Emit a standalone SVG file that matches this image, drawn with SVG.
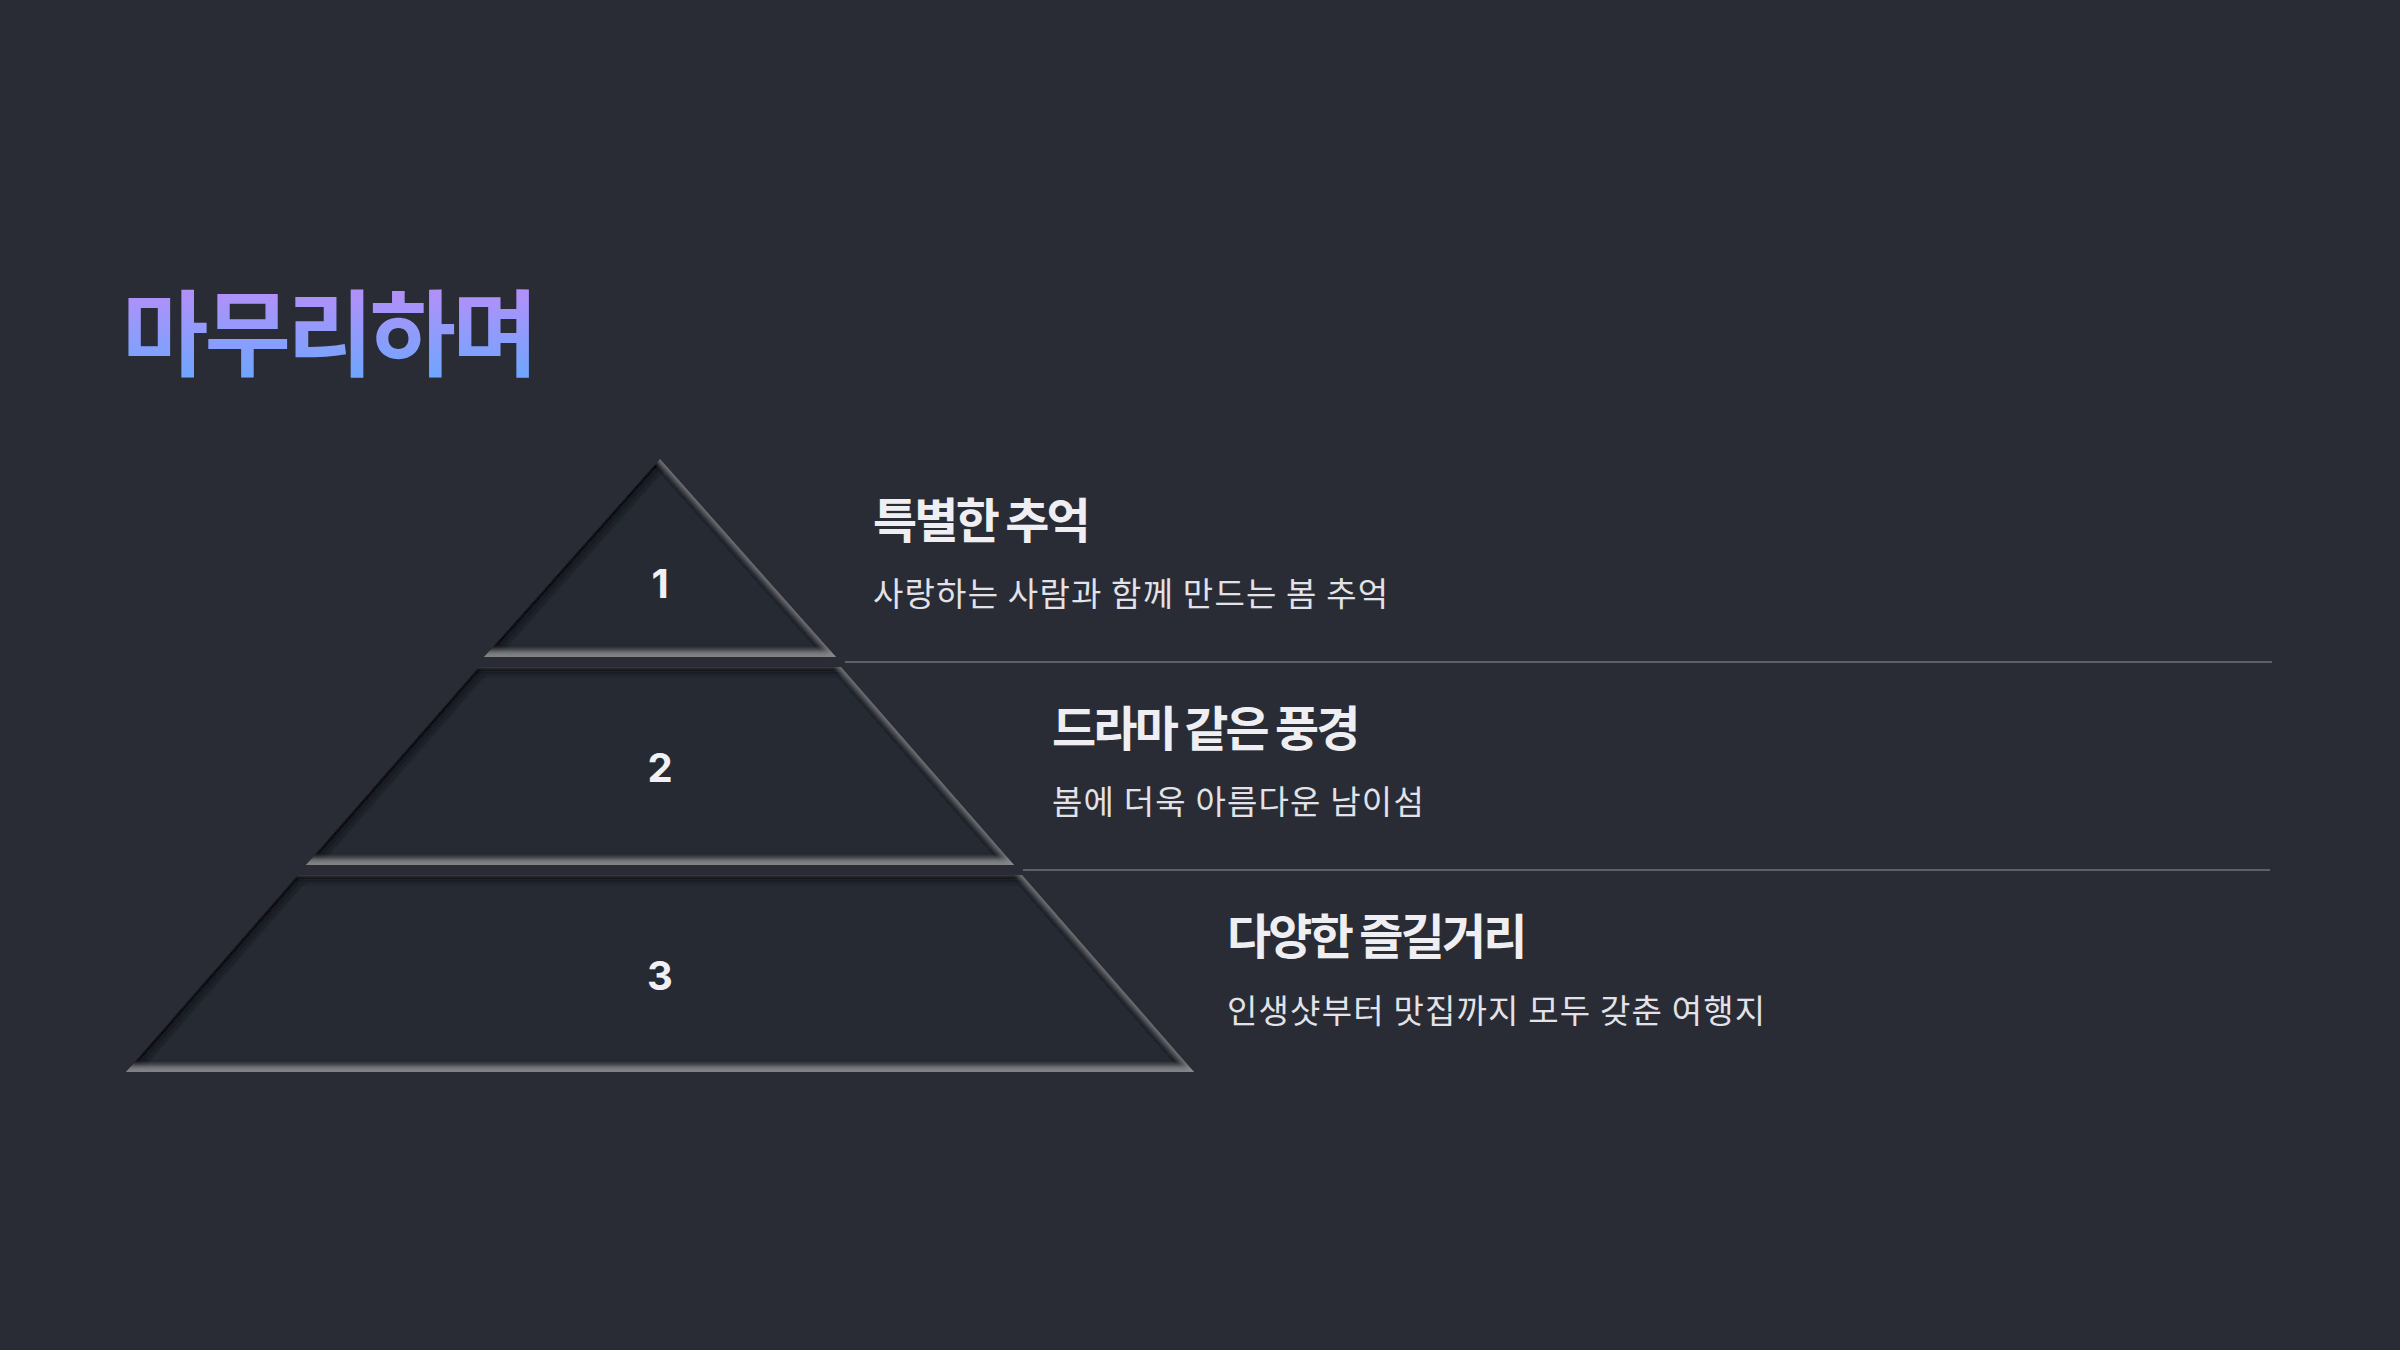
<svg xmlns="http://www.w3.org/2000/svg" width="2400" height="1350" viewBox="0 0 2400 1350">
  <defs>
    <linearGradient id="titleGrad" x1="0" y1="0" x2="0" y2="1">
      <stop offset="0" stop-color="#cc86f7"/>
      <stop offset="0.55" stop-color="#8f9cfc"/>
      <stop offset="1" stop-color="#62a9ff"/>
    </linearGradient>
    <filter id="inset" x="-5%" y="-5%" width="110%" height="110%">
      <feFlood flood-color="#0e1014" flood-opacity="0.6" result="dk"/>
      <feComposite in="dk" in2="SourceAlpha" operator="out" result="dkOut"/>
      <feOffset in="dkOut" dx="5" dy="2" result="o1"/>
      <feGaussianBlur in="o1" stdDeviation="2.5" result="b1"/>
      <feComposite in="b1" in2="SourceAlpha" operator="in" result="s1"/>
      <feOffset in="dkOut" dx="0" dy="5" result="o2"/>
      <feGaussianBlur in="o2" stdDeviation="2.5" result="b2"/>
      <feComposite in="b2" in2="SourceAlpha" operator="in" result="s2"/>
      <feFlood flood-color="#8c8e93" flood-opacity="0.7" result="lt"/>
      <feComposite in="lt" in2="SourceAlpha" operator="out" result="ltOut"/>
      <feOffset in="ltOut" dx="-5" dy="-2" result="o3"/>
      <feGaussianBlur in="o3" stdDeviation="2.5" result="b3"/>
      <feComposite in="b3" in2="SourceAlpha" operator="in" result="s3"/>
      <feOffset in="ltOut" dx="0" dy="-6" result="o4"/>
      <feGaussianBlur in="o4" stdDeviation="2.5" result="b4"/>
      <feComposite in="b4" in2="SourceAlpha" operator="in" result="s4"/>
      <feMerge>
        <feMergeNode in="SourceGraphic"/>
        <feMergeNode in="s1"/>
        <feMergeNode in="s2"/>
        <feMergeNode in="s3"/>
        <feMergeNode in="s4"/>
      </feMerge>
    </filter>
  </defs>
  <style>
    .tier { fill: #252931; filter: url(#inset); }
    .num { font-family: Inter, "Noto Sans", sans-serif; font-weight: 700; font-size: 40px; fill: #f0f0f5; text-anchor: middle; }
    .head { font-family: "Noto Sans CJK KR", sans-serif; font-weight: 700; font-size: 48px; fill: #eeeef3; letter-spacing: -2.8px; }
    .sub { font-family: "Noto Sans CJK KR", sans-serif; font-weight: 400; font-size: 33px; fill: #e2e2e8; letter-spacing: 1.2px; }
    .title { font-family: "Noto Sans CJK KR", sans-serif; font-weight: 700; font-size: 94px; fill: url(#titleGrad); letter-spacing: -4px; }
    .divider { stroke: #5d6068; stroke-width: 2; }
  </style>
  <rect width="2400" height="1350" fill="#292c34"/>

  <text class="title" x="122" y="369">마무리하며</text>

  <g id="tier1">
    <polygon class="tier" points="660,459 836,657 484,657"/>
    <text class="num" x="660" y="598">1</text>
  </g>
  <g id="tier2">
    <polygon class="tier" points="479,667 841,667 1014,865 306,865"/>
    <text class="num" x="660" y="782">2</text>
  </g>
  <g id="tier3">
    <polygon class="tier" points="298,875 1022,875 1194,1072 126,1072"/>
    <text class="num" x="660" y="990">3</text>
  </g>

  <g id="connectors">
    <line class="divider" x1="845" y1="662" x2="2272" y2="662"/>
    <line class="divider" x1="1023" y1="870" x2="2270" y2="870"/>
  </g>

  <g id="label1">
    <text class="head" x="873" y="538">특별한 추억</text>
    <text class="sub" x="873" y="606">사랑하는 사람과 함께 만드는 봄 추억</text>
  </g>
  <g id="label2">
    <text class="head" x="1052" y="746">드라마 같은 풍경</text>
    <text class="sub" x="1052" y="814">봄에 더욱 아름다운 남이섬</text>
  </g>
  <g id="label3">
    <text class="head" x="1227" y="954">다양한 즐길거리</text>
    <text class="sub" x="1227" y="1023">인생샷부터 맛집까지 모두 갖춘 여행지</text>
  </g>
</svg>
